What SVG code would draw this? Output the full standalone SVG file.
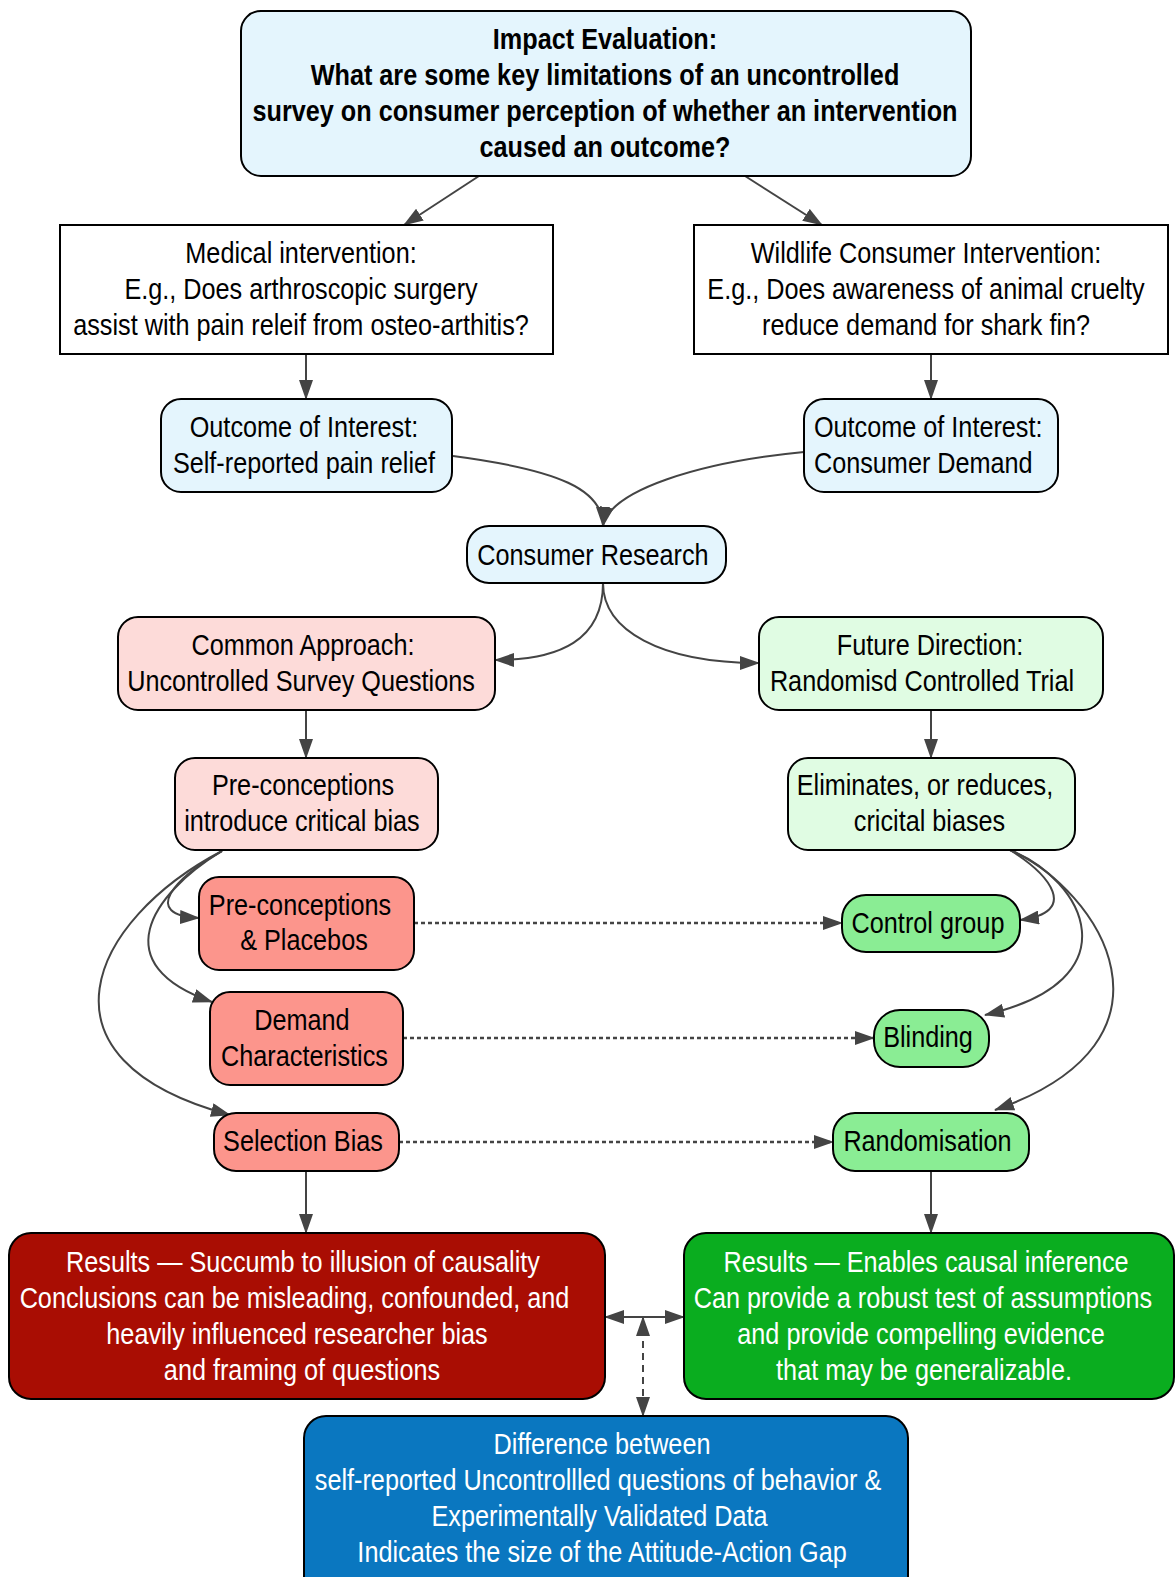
<svg xmlns="http://www.w3.org/2000/svg" width="1176" height="1577" viewBox="0 0 1176 1577">
<defs>
<marker id="ah" viewBox="0 0 20 14" refX="19" refY="7" markerWidth="20" markerHeight="14" markerUnits="userSpaceOnUse" orient="auto-start-reverse">
<path d="M0,0 L20,7 L0,14 z" fill="#444"/>
</marker>
<style>
.n{stroke:#000;stroke-width:2}
.lb{fill:#e4f5fd}
.pk{fill:#fddbd9}
.lg{fill:#e0fce3}
.rd{fill:#fc958c}
.gr{fill:#8aed94}
.t{font-family:"Liberation Sans",Arial,sans-serif;font-size:29px;text-anchor:middle;fill:#000}
.b{font-weight:bold}
.w{fill:#fff}
.c{fill:none;stroke:#444;stroke-width:2}
.e{marker-end:url(#ah)}
.s{marker-start:url(#ah)}
.dot{stroke-dasharray:4 3;stroke-width:2.5}
.dash{stroke-dasharray:7 5}
</style>
</defs>
<rect width="1176" height="1577" fill="#fff"/>
<g id="connectors">
<path class="c e" d="M479,176 L404,225"/>
<path class="c e" d="M745,176 L822,225"/>
<path class="c e" d="M306,354 L306,399"/>
<path class="c e" d="M931,354 L931,399"/>
<path class="c e" d="M453,456 C560,470 603,490 603,526"/>
<path class="c e" d="M804,452 C700,462 610,490 603,526"/>
<path class="c e" d="M603,583 C603,640 560,660 495,660"/>
<path class="c e" d="M603,583 C603,630 660,663 759,663"/>
<path class="c e" d="M306,710 L306,758"/>
<path class="c e" d="M931,710 L931,758"/>
<path class="c e" d="M222,851 C175,878 140,915 199,918"/>
<path class="c e" d="M222,851 C150,895 105,965 212,1002"/>
<path class="c e" d="M222,851 C90,920 25,1060 230,1115"/>
<path class="c e" d="M1010,850 C1050,875 1080,912 1020,920"/>
<path class="c e" d="M1010,850 C1085,880 1135,980 985,1015"/>
<path class="c e" d="M1010,850 C1100,890 1195,1040 995,1110"/>
<path class="c e dot" d="M414,923 L842,923"/>
<path class="c e dot" d="M403,1038 L874,1038"/>
<path class="c e dot" d="M399,1142 L833,1142"/>
<path class="c e" d="M306,1171 L306,1233"/>
<path class="c e" d="M931,1171 L931,1233"/>
<path class="c e s" d="M605,1317 L684,1317"/>
<path class="c e s dash" d="M643,1317 L643,1416"/>
</g>
<g id="impact">
<rect class="n lb" x="241" y="11" width="730" height="165" rx="20"/>
<text class="t b" transform="scale(0.87 1)"><tspan x="695.4" y="49">Impact Evaluation:</tspan><tspan x="695.4" y="85">What are some key limitations of an uncontrolled</tspan><tspan x="695.4" y="121">survey on consumer perception of whether an intervention</tspan><tspan x="695.4" y="157">caused an outcome?</tspan></text>
</g>
<g id="medical">
<rect class="n" fill="#fff" x="60" y="225" width="493" height="129"/>
<text class="t" transform="scale(0.87 1)"><tspan x="346" y="263">Medical intervention:</tspan><tspan x="346" y="299">E.g., Does arthroscopic surgery</tspan><tspan x="346" y="335">assist with pain releif from osteo-arthitis?</tspan></text>
</g>
<g id="wildlife">
<rect class="n" fill="#fff" x="694" y="225" width="474" height="129"/>
<text class="t" transform="scale(0.87 1)"><tspan x="1064.4" y="263">Wildlife Consumer Intervention:</tspan><tspan x="1064.4" y="299">E.g., Does awareness of animal cruelty</tspan><tspan x="1064.4" y="335">reduce demand for shark fin?</tspan></text>
</g>
<g id="outcome-left">
<rect class="n lb" x="161" y="399" width="291" height="93" rx="20"/>
<text class="t" transform="scale(0.87 1)"><tspan x="349.4" y="437">Outcome of Interest:</tspan><tspan x="349.4" y="473">Self-reported pain relief</tspan></text>
</g>
<g id="outcome-right">
<rect class="n lb" x="804" y="399" width="254" height="93" rx="20"/>
<text class="t" style="text-anchor:start" transform="scale(0.87 1)"><tspan x="935.6" y="437">Outcome of Interest:</tspan><tspan x="935.6" y="473">Consumer Demand</tspan></text>
</g>
<g id="consumer-research">
<rect class="n lb" x="467" y="526" width="259" height="57" rx="22"/>
<text class="t" transform="scale(0.87 1)" x="681.6" y="565">Consumer Research</text>
</g>
<g id="common-approach">
<rect class="n pk" x="118" y="617" width="377" height="93" rx="20"/>
<text class="t" transform="scale(0.87 1)"><tspan x="348.3" y="655">Common Approach:</tspan><tspan x="346" y="691">Uncontrolled Survey Questions</tspan></text>
</g>
<g id="future-direction">
<rect class="n lg" x="759" y="617" width="344" height="93" rx="20"/>
<text class="t" transform="scale(0.87 1)"><tspan x="1069" y="655">Future Direction:</tspan><tspan x="1059.8" y="691">Randomisd Controlled Trial</tspan></text>
</g>
<g id="preconceptions-bias">
<rect class="n pk" x="175" y="758" width="263" height="92" rx="20"/>
<text class="t" transform="scale(0.87 1)"><tspan x="348.3" y="795">Pre-conceptions</tspan><tspan x="347.1" y="831">introduce critical bias</tspan></text>
</g>
<g id="eliminates">
<rect class="n lg" x="788" y="758" width="287" height="92" rx="20"/>
<text class="t" transform="scale(0.87 1)"><tspan x="1063.2" y="795">Eliminates, or reduces,</tspan><tspan x="1068.4" y="831">cricital biases</tspan></text>
</g>
<g id="placebos">
<rect class="n rd" x="199" y="877" width="215" height="93" rx="20"/>
<text class="t" transform="scale(0.87 1)"><tspan x="344.8" y="915">Pre-conceptions</tspan><tspan x="349.4" y="950">&amp; Placebos</tspan></text>
</g>
<g id="control-group">
<rect class="n gr" x="842" y="895" width="178" height="57" rx="24"/>
<text class="t" transform="scale(0.87 1)" x="1066.7" y="933">Control group</text>
</g>
<g id="demand">
<rect class="n rd" x="210" y="992" width="193" height="93" rx="20"/>
<text class="t" transform="scale(0.87 1)"><tspan x="347.1" y="1030">Demand</tspan><tspan x="350" y="1066">Characteristics</tspan></text>
</g>
<g id="blinding">
<rect class="n gr" x="874" y="1010" width="115" height="57" rx="26"/>
<text class="t" transform="scale(0.87 1)" x="1066.7" y="1047">Blinding</text>
</g>
<g id="selection-bias">
<rect class="n rd" x="214" y="1113" width="185" height="58" rx="22"/>
<text class="t" transform="scale(0.87 1)" x="348.3" y="1151">Selection Bias</text>
</g>
<g id="randomisation">
<rect class="n gr" x="833" y="1113" width="196" height="58" rx="22"/>
<text class="t" transform="scale(0.87 1)" x="1066.1" y="1151">Randomisation</text>
</g>
<g id="results-red">
<rect class="n" fill="#a90d03" x="9" y="1233" width="596" height="166" rx="22"/>
<text class="t w" transform="scale(0.87 1)"><tspan x="348.3" y="1272">Results — Succumb to illusion of causality</tspan><tspan x="338.5" y="1308">Conclusions can be misleading, confounded, and</tspan><tspan x="341.4" y="1344">heavily influenced researcher bias</tspan><tspan x="347.1" y="1380">and framing of questions</tspan></text>
</g>
<g id="results-green">
<rect class="n" fill="#0aad1f" x="684" y="1233" width="490" height="166" rx="22"/>
<text class="t w" transform="scale(0.87 1)"><tspan x="1064.4" y="1272">Results — Enables causal inference</tspan><tspan x="1060.9" y="1308">Can provide a robust test of assumptions</tspan><tspan x="1058.6" y="1344">and provide compelling evidence</tspan><tspan x="1062.1" y="1380">that may be generalizable.</tspan></text>
</g>
<g id="difference">
<rect class="n" fill="#0a77c0" x="304" y="1416" width="604" height="200" rx="22"/>
<text class="t w" transform="scale(0.87 1)"><tspan x="692" y="1454">Difference between</tspan><tspan x="687.4" y="1490">self-reported Uncontrollled questions of behavior &amp;</tspan><tspan x="689.1" y="1526">Experimentally Validated Data</tspan><tspan x="692" y="1562">Indicates the size of the Attitude-Action Gap</tspan></text>
</g>
</svg>
